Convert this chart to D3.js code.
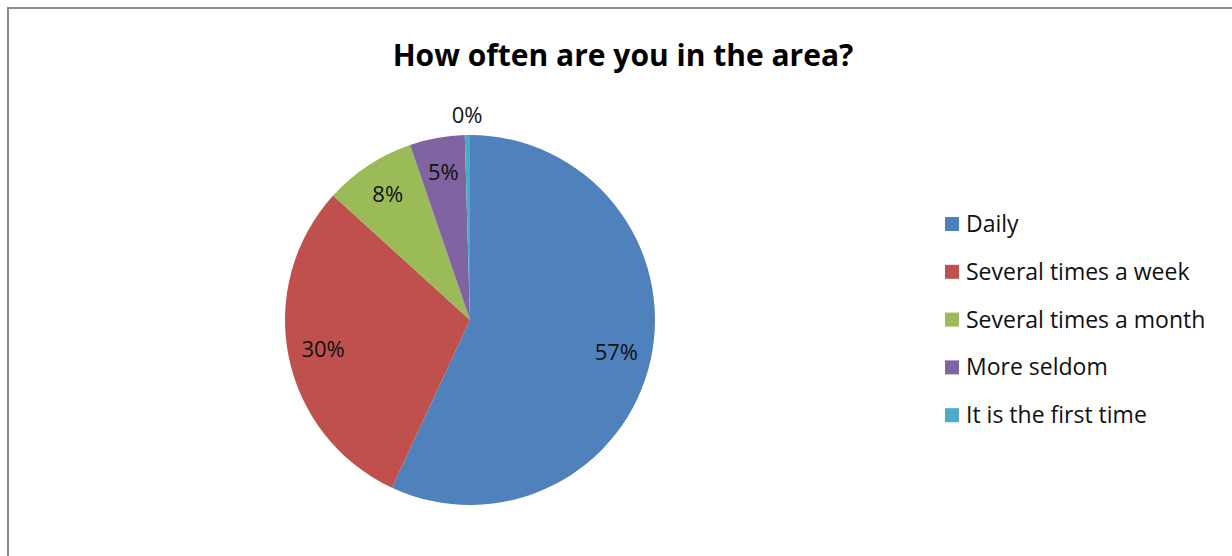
<!DOCTYPE html>
<html lang="en">
<meta charset="utf-8">
<title>How often are you in the area?</title>
<style>
	body {
	    margin: 0;
	    background: #fff;
	    font-family: "Open Sans", "Noto Sans", sans-serif;
	}
	.frame {
	    fill: none;
	    stroke: #8a8a8a;
	    stroke-width: 2;
	}
	.title {
	    font-size: 30px;
	    font-weight: bold;
	    fill: #000;
	}
	.pct {
	    font-size: 22px;
	    fill: #111;
	}
	.legend text {
	    font-size: 23px;
	    fill: #111;
	}
</style>
<body>
<script src="https://cdn.jsdelivr.net/npm/d3@7"></script>
<svg class="chart"></svg>
<script>
	// data
	var categories = ["Daily", "Several times a week", "Several times a month", "More seldom", "It is the first time"];
	var shares = [56.9, 29.8, 8.0, 4.8, 0.45];
	var pctLabels = ["57%", "30%", "8%", "5%", "0%"];
	var colors = ["#4F81BD", "#C0504D", "#9BBB59", "#8064A2", "#4BACC6"];

	var width = 1232, height = 556;

	var svg = d3.select(".chart")
	    .attr("width", width)
	    .attr("height", height);

	// outer chart border (bottom runs past the window)
	svg.append("path")
	    .attr("class", "frame")
	    .attr("d", "M8,570 V8 H1240");

	svg.append("text")
	    .attr("class", "title")
	    .attr("x", 623)
	    .attr("y", 66)
	    .attr("text-anchor", "middle")
	    .text("How often are you in the area?");

	var radius = 185;
	var g = svg.append("g")
	    .attr("transform", "translate(470,320)");

	var pie = d3.pie().sort(null).value(function(d) { return d; });
	var arcs = pie(shares);
	var arc = d3.arc().innerRadius(0).outerRadius(radius);

	g.selectAll(".slice")
	    .data(arcs)
	  .enter().append("path")
	    .attr("class", "slice")
	    .attr("d", arc)
	    .style("fill", function(d, i) { return colors[i]; });

	// labels: inside at ~0.81r, tiny slices go outside
	g.selectAll(".pct")
	    .data(arcs)
	  .enter().append("text")
	    .attr("class", "pct")
	    .attr("text-anchor", "middle")
	    .attr("dy", "0.35em")
	    .attr("transform", function(d) {
	        var a = (d.startAngle + d.endAngle) / 2;
	        var r = (d.endAngle - d.startAngle) < 0.05 ? radius + 20 : radius * 0.81;
	        return "translate(" + (r * Math.sin(a)) + "," + (-r * Math.cos(a)) + ")";
	    })
	    .text(function(d, i) { return pctLabels[i]; });

	var legend = svg.append("g")
	    .attr("class", "legend")
	    .attr("transform", "translate(945,224)");

	var row = legend.selectAll("g")
	    .data(categories)
	  .enter().append("g")
	    .attr("transform", function(d, i) { return "translate(0," + (i * 47.8) + ")"; });

	row.append("rect")
	    .attr("x", 0)
	    .attr("y", -7)
	    .attr("width", 14)
	    .attr("height", 14)
	    .style("fill", function(d, i) { return colors[i]; });

	row.append("text")
	    .attr("x", 21)
	    .attr("dy", "0.35em")
	    .text(function(d) { return d; });
</script>
</body>
</html>
